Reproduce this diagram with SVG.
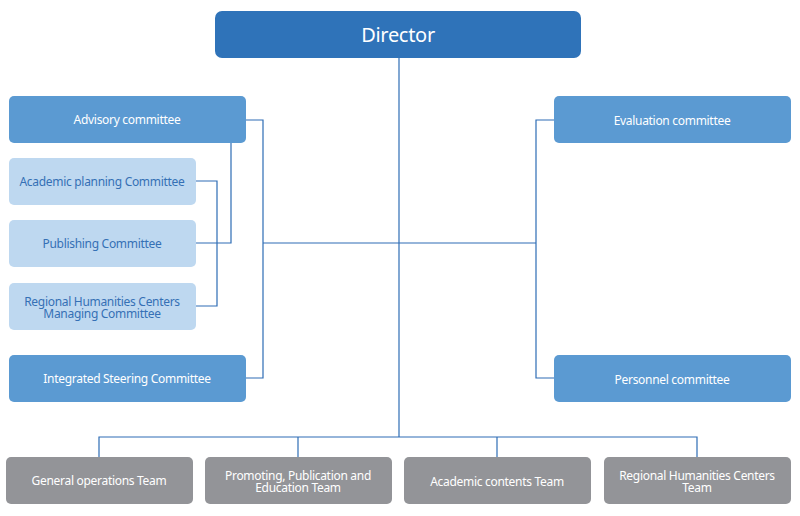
<svg xmlns="http://www.w3.org/2000/svg" width="800" height="516" viewBox="0 0 800 516">
<style>
.dir{fill:#2f73b9}
.mid{fill:#5b9ad2}
.lt{fill:#bed8f0}
.gr{fill:#939498}
text{font-family:"Noto Sans","Liberation Sans",sans-serif;font-size:12px;text-anchor:middle;letter-spacing:-0.3px}
.w{fill:#ffffff}
.b{fill:#3570b5}
.c{fill:none;stroke:#2e6db5;stroke-width:1.2}
</style>
<rect width="800" height="516" fill="#ffffff"/>
<g id="connectors" class="c">
<path d="M399 58V437"/>
<path d="M263 243H536"/>
<path d="M246 120H263V378H246"/>
<path d="M554 120H536V378H554"/>
<path d="M231 143V243H196"/>
<path d="M196 181H217V306H196"/>
<path d="M99 457V437H697V457"/>
<path d="M298 437V457"/>
<path d="M497 437V457"/>
</g>
<g id="director"><rect class="dir" x="215" y="11" width="366" height="47" rx="7"/><text class="w" x="398" y="42" style="font-size:20px">Director</text></g>
<g id="advisory"><rect class="mid" x="9" y="96" width="237" height="47" rx="5"/><text class="w" x="127" y="124">Advisory committee</text></g>
<g id="academic-planning"><rect class="lt" x="9" y="158" width="187" height="47" rx="5"/><text class="b" x="102" y="186">Academic planning Committee</text></g>
<g id="publishing"><rect class="lt" x="9" y="220" width="187" height="47" rx="5"/><text class="b" x="102" y="248">Publishing Committee</text></g>
<g id="regional-committee"><rect class="lt" x="9" y="283" width="187" height="47" rx="5"/><text class="b" x="102" y="305.5">Regional Humanities Centers</text><text class="b" x="102" y="318">Managing Committee</text></g>
<g id="integrated"><rect class="mid" x="9" y="355" width="237" height="47" rx="5"/><text class="w" x="127" y="383">Integrated Steering Committee</text></g>
<g id="evaluation"><rect class="mid" x="554" y="96" width="237" height="47" rx="5"/><text class="w" x="672" y="125">Evaluation committee</text></g>
<g id="personnel"><rect class="mid" x="554" y="355" width="237" height="47" rx="5"/><text class="w" x="672" y="384">Personnel committee</text></g>
<g id="general"><rect class="gr" x="6" y="457" width="187" height="47" rx="5"/><text class="w" x="99" y="485">General operations Team</text></g>
<g id="promoting"><rect class="gr" x="205" y="457" width="187" height="47" rx="5"/><text class="w" x="298" y="479.5">Promoting, Publication and</text><text class="w" x="298" y="492">Education Team</text></g>
<g id="academic-contents"><rect class="gr" x="404" y="457" width="187" height="47" rx="5"/><text class="w" x="497" y="486">Academic contents Team</text></g>
<g id="regional-team"><rect class="gr" x="604" y="457" width="187" height="47" rx="5"/><text class="w" x="697" y="479.5">Regional Humanities Centers</text><text class="w" x="697" y="492">Team</text></g>
</svg>
